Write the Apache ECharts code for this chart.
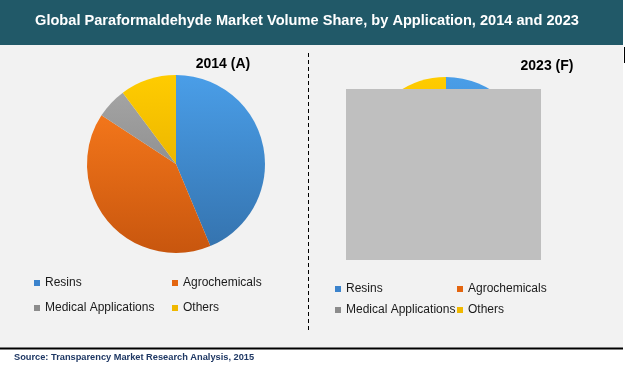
<!DOCTYPE html>
<html>
<head>
<meta charset="utf-8">
<script src="https://cdn.jsdelivr.net/npm/echarts@6/dist/echarts.min.js"></script>
<style>
html,body{margin:0;padding:0;background:#ffffff;}
#chart{width:627px;height:365px;}
</style>
</head>
<body>
<div id="chart"></div>
<script>
var titleText = 'Global Paraformaldehyde Market Volume Share, by Application, 2014 and 2023';
var sourceText = 'Source: Transparency Market Research Analysis, 2015';
var categories = ['Resins', 'Agrochemicals', 'Medical Applications', 'Others'];
var pieTitles = ['2014 (A)', '2023 (F)'];
var values2014 = [43.7, 40.5, 5.6, 10.2];
var values2023 = [45.0, 40.0, 5.0, 10.0];

var topColors = ['#4a9ee8', '#ff7f1e', '#a8a8a8', '#ffcc00'];
var bottomColors = ['#3472ad', '#c8560e', '#7a7a7a', '#dba200'];
var legendColors = ['#3b83cc', '#e3650f', '#8c8c8c', '#f0b800'];

function grad(i, y0, y1) {
  return {type:'linear', x:0, y:y0, x2:0, y2:y1, global:true,
    colorStops:[{offset:0,color:topColors[i]},{offset:1,color:bottomColors[i]}]};
}
function pieData(vals, y0, y1) {
  return categories.map(function(c, i){
    return {name:c, value:vals[i], itemStyle:{color:grad(i, y0, y1)}};
  });
}
function mkLegend(name, idx, left, top) {
  return {
    left:left, top:top, padding:0, orient:'horizontal',
    itemWidth:6, itemHeight:6, icon:'rect', selectedMode:false,
    data:[{name:name, itemStyle:{color:legendColors[idx]}}],
    textStyle:{fontFamily:'Liberation Sans, Arial', fontSize:12, color:'#1a1a1a'}
  };
}

var chart = echarts.init(document.getElementById('chart'), null, {renderer:'canvas'});
var option = {
  animation:false,
  backgroundColor:'#ffffff',
  legend:[
    mkLegend(categories[0], 0, 34, 277),
    mkLegend(categories[1], 1, 172, 277),
    mkLegend(categories[2], 2, 34, 302),
    mkLegend(categories[3], 3, 172, 302),
    mkLegend(categories[0], 0, 335, 283),
    mkLegend(categories[1], 1, 457, 283),
    mkLegend(categories[2], 2, 335, 304),
    mkLegend(categories[3], 3, 457, 304)
  ],
  graphic:[
    {type:'rect', z:-10, shape:{x:0,y:45,width:623,height:303}, style:{fill:'#f2f2f2'}},
    {type:'rect', z:-9, shape:{x:0,y:0,width:623,height:45}, style:{fill:'#215968'}},
    {type:'text', z:5, style:{text:titleText, x:307, y:21, align:'center', verticalAlign:'middle',
      font:'bold 14.6px "Liberation Sans", Arial', fill:'#ffffff'}},
    {type:'line', z:5, shape:{x1:0,y1:348.5,x2:623,y2:348.5}, style:{stroke:'#000000', lineWidth:2}},
    {type:'line', z:5, shape:{x1:624.5,y1:47,x2:624.5,y2:63}, style:{stroke:'#000000', lineWidth:1}},
    {type:'line', z:5, shape:{x1:308.5,y1:53,x2:308.5,y2:330}, style:{stroke:'#000000', lineWidth:1, lineDash:[4,3]}},
    {type:'text', z:5, style:{text:pieTitles[0], x:223, y:64, align:'center', verticalAlign:'middle',
      font:'bold 14px "Liberation Sans", Arial', fill:'#000000'}},
    {type:'text', z:5, style:{text:pieTitles[1], x:547, y:66, align:'center', verticalAlign:'middle',
      font:'bold 14px "Liberation Sans", Arial', fill:'#000000'}},
    {type:'text', z:5, style:{text:sourceText, x:14, y:357, align:'left', verticalAlign:'middle',
      font:'bold 9.25px "Liberation Sans", Arial', fill:'#1f3864'}},
    {type:'rect', z:100, shape:{x:346,y:89,width:195,height:171}, style:{fill:'#bfbfbf'}}
  ],
  series:[
    {type:'pie', center:[176,164], radius:[0,89], startAngle:90, clockwise:true,
     label:{show:false}, labelLine:{show:false}, silent:true,
     data:pieData(values2014, 75, 253)},
    {type:'pie', center:[446,162], radius:[0,85], startAngle:90, clockwise:true,
     label:{show:false}, labelLine:{show:false}, silent:true,
     data:pieData(values2023, 77, 247)}
  ]
};
chart.setOption(option);
</script>
</body>
</html>
